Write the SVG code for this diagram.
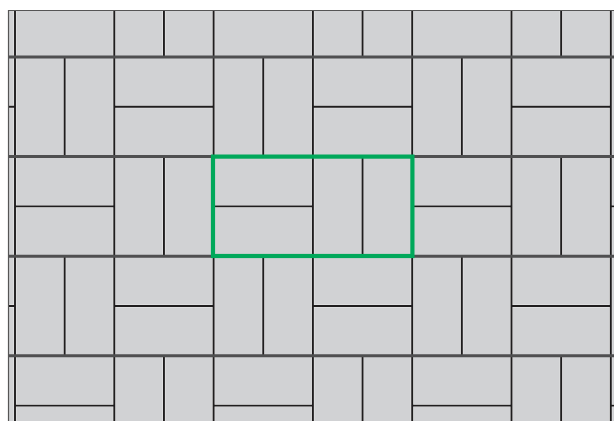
<svg xmlns="http://www.w3.org/2000/svg" width="614" height="421" viewBox="0 0 614 421">
<style>
.j{stroke:#ececec;stroke-width:3;fill:none}
.d{stroke:#1f1d1e;stroke-width:1.9;fill:none}
.h{stroke:#4f4f50;stroke-width:3;fill:none}
</style>
<defs>
<clipPath id="c"><rect x="8" y="10" width="606" height="411"/></clipPath>
<g id="lines">
<!-- vertical grid lines -->
<path d="M15 10V421M114.3 10V421M213.6 10V421M312.9 10V421M412.2 10V421M511.5 10V421M610.8 10V421"/>
<!-- row -1 vertical splits -->
<path d="M163.95 10V57M362.55 10V57M561.15 10V57"/>
<!-- row 0 -->
<path d="M64.65 57V156.6M263.25 57V156.6M461.85 57V156.6"/>
<path d="M8 106.8H15M114.3 106.8H213.6M312.9 106.8H412.2M511.5 106.8H610.8"/>
<!-- row 1 -->
<path d="M163.95 156.6V256.2M362.55 156.6V256.2M561.15 156.6V256.2"/>
<path d="M15 206.4H114.3M213.6 206.4H312.9M412.2 206.4H511.5M610.8 206.4H614"/>
<!-- row 2 -->
<path d="M64.65 256.2V355.8M263.25 256.2V355.8M461.85 256.2V355.8"/>
<path d="M8 306H15M114.3 306H213.6M312.9 306H412.2M511.5 306H610.8"/>
<!-- row 3 -->
<path d="M163.95 355.8V421M362.55 355.8V421M561.15 355.8V421"/>
<path d="M15 405.6H114.3M213.6 405.6H312.9M412.2 405.6H511.5M610.8 405.6H614"/>
</g>
<path id="rows" d="M8 57H614M8 156.6H614M8 256.2H614M8 355.8H614"/>
</defs>
<rect width="614" height="421" fill="#ffffff"/>
<rect x="8" y="10" width="606" height="411" fill="#d1d2d4"/>
<g clip-path="url(#c)">
<use href="#lines" class="j"/>
<use href="#lines" class="d"/>
<use href="#rows" class="h"/>
</g>
<path d="M8.5 421V10.5H614" fill="none" stroke="#555555" stroke-width="1.2"/>
<rect id="highlight" x="213" y="156.6" width="199.4" height="99.4" fill="none" stroke="#00a85a" stroke-width="4.2"/>
</svg>
